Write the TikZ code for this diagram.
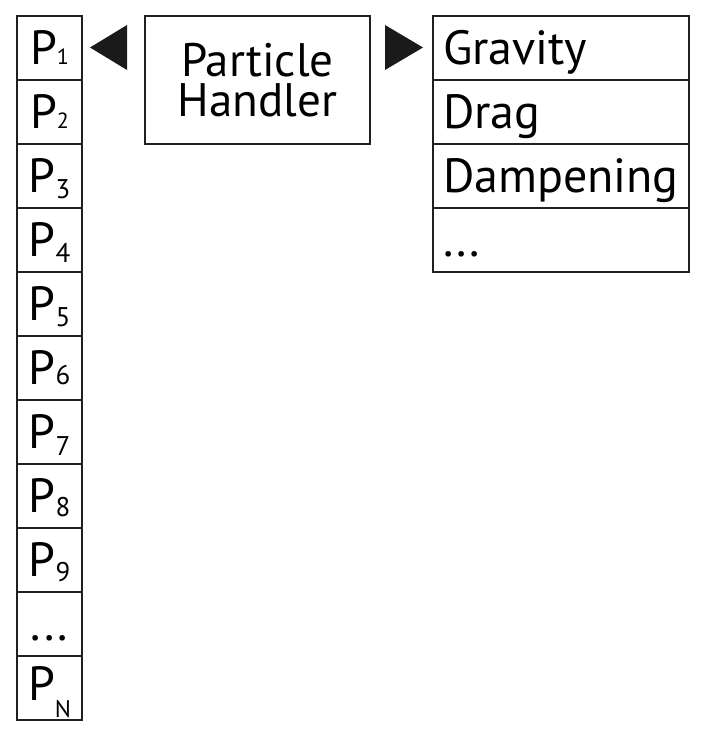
\documentclass[tikz,border=0pt]{standalone}
\usepackage{fontspec}
\setmainfont{PT Sans}
\definecolor{linecol}{HTML}{231F20}
\definecolor{tricol}{HTML}{1A1A1A}
\newcommand\sdig[2]{\raisebox{#1}{\fontsize{27}{27}\selectfont #2}}
\newcommand\ssdig[2]{\raisebox{#1}{\fontsize{22}{22}\selectfont #2}}
\begin{document}
\begin{tikzpicture}[x=1pt,y=-1pt,
  bigtext/.style={font=\fontsize{48}{37}\selectfont},
  pcell/.style={draw=linecol, line width=2pt, minimum width=65pt, minimum height=64pt,
    inner sep=0pt, text height=32pt, text depth=0pt, bigtext},
  fcell/.style={draw=linecol, line width=2pt, minimum width=256pt, minimum height=64pt,
    inner xsep=10pt, inner ysep=0pt, text width=236pt, align=left,
    text height=32pt, text depth=0pt, bigtext},
  hbox/.style={draw=linecol, line width=2pt, minimum width=225pt, minimum height=128pt,
    inner sep=0pt, align=center, font=\fontsize{47}{40}\selectfont},
  tri/.style={fill=tricol, draw=none}
]
\useasboundingbox (0,0) rectangle (704,736);

% particle column
\node[pcell] (p1)  at (49.5, 48)  {P\ssdig{0pt}{1}};
\node[pcell] (p2)  at (49.5, 112) {P\ssdig{0pt}{2}};
\node[pcell] (p3)  at (49.5, 176) {P\sdig{-6pt}{3}};
\node[pcell] (p4)  at (49.5, 240) {P\sdig{-6pt}{4}};
\node[pcell] (p5)  at (49.5, 304) {P\sdig{-6pt}{5}};
\node[pcell] (p6)  at (49.5, 368) {P\sdig{0pt}{6}};
\node[pcell] (p7)  at (49.5, 432) {P\sdig{-7pt}{7}};
\node[pcell] (p8)  at (49.5, 496) {P\sdig{-4pt}{8}};
\node[pcell] (p9)  at (49.5, 560) {P\sdig{-5pt}{9}};
\node[pcell] (pd)  at (49.5, 624) {...};
\node[pcell, text height=28pt, text depth=4pt] (pn) at (49.5, 688)
  {P\raisebox{-17pt}{\fontsize{24}{24}\selectfont N}};

% handler
\node[hbox] (h) at (257.5, 80) {Particle\\Handler};

% forces column
\node[fcell] (f1) at (561, 48)  {Gravity};
\node[fcell] (f2) at (561, 112) {Drag};
\node[fcell] (f3) at (561, 176) {Dampening};
\node[fcell] (f4) at (561, 240) {...};

% arrowheads
\fill[tri] (127,25) -- (127,70) -- (90,47.5) -- cycle;
\fill[tri] (385,25) -- (385,70) -- (423,47.5) -- cycle;
\end{tikzpicture}
\end{document}
